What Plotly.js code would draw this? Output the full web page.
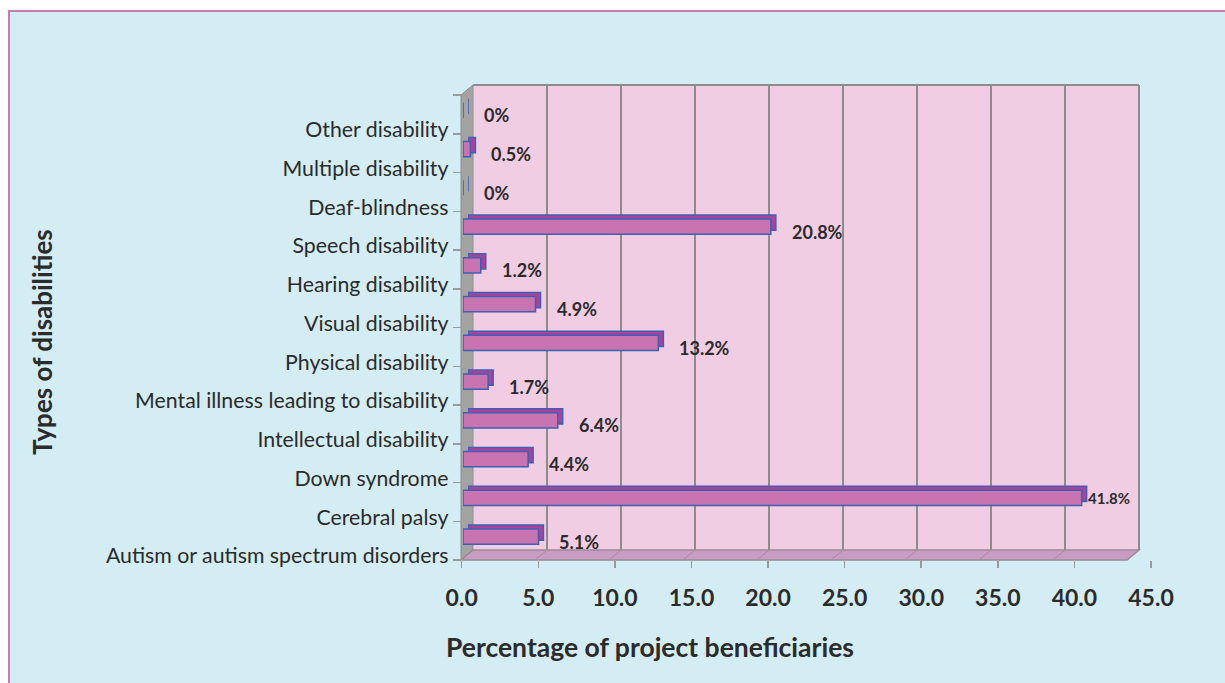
<!DOCTYPE html>
<html>
<head>
<meta charset="utf-8">
<script src="https://cdn.plot.ly/plotly-3.0.1.min.js"></script>
<style>html,body{margin:0;padding:0;background:#fff;}#chart{width:1225px;height:683px;}</style>
</head>
<body>
<div id="chart"></div>
<script>
// ---- data ----
const categories = [
  "Autism or autism spectrum disorders",
  "Cerebral palsy",
  "Down syndrome",
  "Intellectual disability",
  "Mental illness leading to disability",
  "Physical disability",
  "Visual disability",
  "Hearing disability",
  "Speech disability",
  "Deaf-blindness",
  "Multiple disability",
  "Other disability"
];
const percentages = [5.1, 41.8, 4.4, 6.4, 1.7, 13.2, 4.9, 1.2, 20.8, 0, 0.5, 0];
const xTickValues = [0, 5, 10, 15, 20, 25, 30, 35, 40, 45];
const xTickLabels = ["0.0", "5.0", "10.0", "15.0", "20.0", "25.0", "30.0", "35.0", "40.0", "45.0"];
const xTitle = "Percentage of project beneficiaries";
const yTitle = "Types of disabilities";

// ---- geometry helpers (pixel -> paper) ----
const W = 1225, H = 683;
const fx = p => p / W;
const fy = p => 1 - p / H;
const XMAX = 45;
const backL = 473, backR = 1139, backT = 85, backB = 550;
const frontL = 461, frontR = 1127, frontT = 95, frontB = 560;
const unitPx = (backR - backL) / XMAX;

const FONT = "Lato, 'Open Sans', sans-serif";
const TXT = "#2b2b2b";
const BAR_FRONT = "#c874b0";
const BAR_SIDE = "#a8429c";
const BAR_LINE = "#3f5fb3";

const nCat = categories.length;
const yRange = [-0.5, nCat - 0.5];

const traces = [
  { // depth (top/right faces)
    type: "bar", orientation: "h",
    x: percentages, y: categories,
    xaxis: "x", yaxis: "y",
    width: 0.39,
    marker: { color: BAR_SIDE, line: { color: BAR_LINE, width: 1.5 } },
    hoverinfo: "skip", showlegend: false
  },
  { // front faces
    type: "bar", orientation: "h",
    x: percentages, y: categories,
    xaxis: "x2", yaxis: "y2",
    width: 0.39,
    marker: { color: BAR_FRONT, line: { color: BAR_LINE, width: 1.5 } },
    name: "Percentage", showlegend: false,
    hovertemplate: "%{y}: %{x}%<extra></extra>"
  },
  { // transparent copy carrying the front-plane tick axes
    type: "bar", orientation: "h",
    x: percentages, y: categories.map((c, i) => i),
    xaxis: "x3", yaxis: "y3",
    width: 0.39,
    marker: { color: "rgba(0,0,0,0)", line: { width: 0 } },
    hoverinfo: "skip", showlegend: false
  }
];

// shapes: 3D box (walls, floor, gridlines)
const P = (x, y) => fx(x).toFixed(5) + "," + fy(y).toFixed(5);
const shapes = [
  { type: "rect", xref: "paper", yref: "paper", x0: fx(9), x1: fx(1240), y0: fy(11), y1: fy(700),
    fillcolor: "#d4ecf3", line: { color: "#c97bb5", width: 2 }, layer: "below" },
  { type: "rect", xref: "paper", yref: "paper", x0: fx(backL), x1: fx(backR), y0: fy(backB), y1: fy(backT),
    fillcolor: "#f0cde3", line: { width: 0 }, layer: "below" },
  { type: "path", xref: "paper", yref: "paper",
    path: "M" + P(frontL, frontT) + " L" + P(backL, backT) + " L" + P(backL, backB) + " L" + P(frontL, frontB) + " Z",
    fillcolor: "#a3a3a3", line: { color: "#8c8c8c", width: 1 }, layer: "below" },
  { type: "path", xref: "paper", yref: "paper",
    path: "M" + P(frontL, frontB) + " L" + P(backL, backB) + " L" + P(backR, backB) + " L" + P(frontR, frontB) + " Z",
    fillcolor: "#c99cc4", line: { color: "#9a8a96", width: 1.5 }, layer: "below" },
  { type: "line", xref: "paper", yref: "paper", x0: fx(backL), x1: fx(backR), y0: fy(backT), y1: fy(backT),
    line: { color: "#8c8c8c", width: 2 }, layer: "below" }
];
xTickValues.forEach(v => {
  if (v === 0) return;
  const bx = backL + v * unitPx, fxp = frontL + v * unitPx;
  shapes.push({ type: "line", xref: "paper", yref: "paper", x0: fx(bx), x1: fx(bx), y0: fy(backT), y1: fy(backB),
    line: { color: "#8c8c8c", width: 2 }, layer: "below" });
  shapes.push({ type: "line", xref: "paper", yref: "paper", x0: fx(bx), x1: fx(fxp), y0: fy(backB), y1: fy(frontB),
    line: { color: "#a88aa0", width: 1 }, layer: "below" });
});

// value labels
const annotations = percentages.map((v, i) => {
  const big = v > 40;
  return {
    x: v, y: categories[i], xref: "x2", yref: "y2",
    text: "<b>" + v + "%</b>", showarrow: false,
    xanchor: "left", yanchor: "middle",
    xshift: big ? 4 : 19, yshift: big ? 0 : -5,
    font: { family: FONT, size: big ? 15 : 18, color: TXT }
  };
});
annotations.push({
  x: fx(650), y: fy(647), xref: "paper", yref: "paper", showarrow: false,
  text: "<b>" + xTitle + "</b>", xanchor: "center", yanchor: "middle",
  font: { family: FONT, size: 26.5, color: TXT }
});
annotations.push({
  x: fx(42), y: fy(342), xref: "paper", yref: "paper", showarrow: false,
  text: "<b>" + yTitle + "</b>", textangle: -90, xanchor: "center", yanchor: "middle",
  font: { family: FONT, size: 26, color: TXT }
});

const hidden = { showgrid: false, zeroline: false, showticklabels: false, ticks: "", showline: false, fixedrange: true };

const layout = {
  width: W, height: H,
  margin: { l: 0, r: 0, t: 0, b: 0 },
  paper_bgcolor: "#ffffff",
  plot_bgcolor: "rgba(0,0,0,0)",
  font: { family: FONT, color: TXT },
  showlegend: false,
  xaxis: Object.assign({}, hidden, { domain: [fx(468), fx(1134)], range: [0, XMAX], anchor: "y" }),
  yaxis: Object.assign({}, hidden, { domain: [fy(552), fy(87)], range: yRange, anchor: "x",
    type: "category", categoryorder: "array", categoryarray: categories }),
  xaxis2: Object.assign({}, hidden, { domain: [fx(463), fx(1129)], range: [0, XMAX], anchor: "y2" }),
  yaxis2: Object.assign({}, hidden, { domain: [fy(556), fy(91)], range: yRange, anchor: "x2",
    type: "category", categoryorder: "array", categoryarray: categories }),
  xaxis3: {
    domain: [fx(461.7), fx(1151)], range: [0, XMAX], anchor: "y3",
    tickmode: "array", tickvals: xTickValues, ticktext: xTickLabels,
    ticks: "outside", ticklen: 7, tickcolor: "#9a9a9a", tickwidth: 1.5,
    ticklabelstandoff: 10,
    tickfont: { family: FONT, size: 23, color: TXT, weight: "bold" },
    showgrid: false, zeroline: false, showline: false, fixedrange: true
  },
  yaxis3: {
    domain: [fy(560), fy(95)], range: yRange, anchor: "x3", type: "linear",
    tickmode: "array",
    tickvals: categories.map((c, i) => i - 0.5).concat([nCat - 0.5]),
    ticktext: categories.concat([""]),
    ticks: "outside", ticklen: 8, tickcolor: "#9a9a9a", tickwidth: 1.5,
    ticklabelshift: -4,
    tickfont: { family: FONT, size: 21.3, color: TXT },
    showgrid: false, zeroline: false, showline: false, fixedrange: true
  },
  shapes: shapes,
  annotations: annotations
};

Plotly.newPlot("chart", traces, layout, { displayModeBar: false, staticPlot: true });
</script>
</body>
</html>
